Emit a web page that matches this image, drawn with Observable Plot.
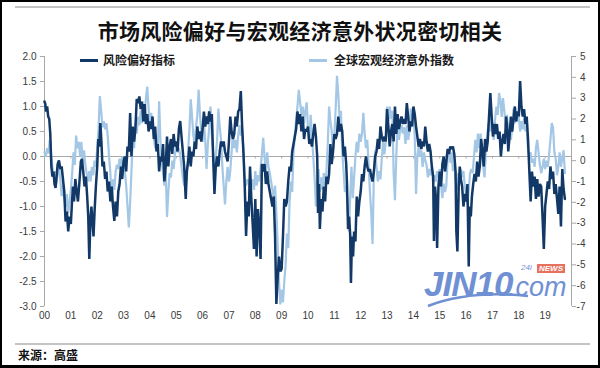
<!DOCTYPE html>
<html>
<head>
<meta charset="utf-8">
<script src="https://cdn.jsdelivr.net/npm/d3@7"></script>
<script src="https://cdn.jsdelivr.net/npm/@observablehq/plot@0.6"></script>
<style>
html,body{margin:0;padding:0;background:#fff;}
#wrap{position:relative;width:600px;height:368px;overflow:hidden;background:#fff;font-family:"Noto Sans CJK SC","Liberation Sans",sans-serif;}
#wrap > *{position:absolute;}
#chart{left:0;top:0;}
#topline{left:15px;top:6px;width:575px;height:2px;background:#c4c4c4;}
#botline{left:15px;top:343px;width:575px;height:2px;background:#c4c4c4;}
#title{left:0;width:600px;top:15px;text-align:center;font-size:21px;font-weight:700;color:#111;line-height:30px;letter-spacing:0.3px;}
.sw{height:3px;}
.lg{font-size:12px;font-weight:700;color:#1a1a1a;line-height:16px;}
#source{left:18px;top:346px;font-size:12px;font-weight:700;color:#111;line-height:18px;}
#border{left:0;top:0;width:600px;height:368px;box-sizing:border-box;border:2px solid #000;border-bottom-width:3px;}
.wm{font-family:"Liberation Sans",Arial,sans-serif;color:#7090d4;font-style:italic;line-height:1;}
</style>
</head>
<body>
<div id="wrap">
  <div id="chart"></div>
  <div id="topline"></div>
  <div id="title">市场风险偏好与宏观经济意外状况密切相关</div>
  <div class="sw" id="sw1" style="left:80px;top:59px;width:18px;"></div>
  <div class="lg" id="lg1" style="left:103px;top:52px;"></div>
  <div class="sw" id="sw2" style="left:309px;top:59px;width:18px;"></div>
  <div class="lg" id="lg2" style="left:334px;top:52px;"></div>
  <div class="wm" style="left:424px;top:266px;font-size:35px;font-weight:700;letter-spacing:-1px;">JIN10</div>
  <div class="wm" style="left:508px;top:274px;font-size:27px;">.com</div>
  <div class="wm" style="left:521px;top:264px;font-size:8px;">24i</div>
  <div style="left:537px;top:264px;font-family:'Liberation Sans',sans-serif;font-size:8px;font-style:italic;font-weight:700;color:#fff;background:#e8705f;padding:0 2px;line-height:9px;">NEWS</div>
  <svg style="left:0;top:0;" width="600" height="368"><path d="M428,306 Q470,290 528,296" fill="none" stroke="#7090d4" stroke-width="2.5"/></svg>
  <div id="botline"></div>
  <div id="source">来源：高盛</div>
  <div id="border"></div>
</div>
<script>
// ---- Data ----
const seriesNames = ["风险偏好指标", "全球宏观经济意外指数"];
const years = [2000,2001,2002,2003,2004,2005,2006,2007,2008,2009,2010,2011,2012,2013,2014,2015,2016,2017,2018,2019];
const leftTicks = [2.0,1.5,1.0,0.5,0.0,-0.5,-1.0,-1.5,-2.0,-2.5,-3.0];
const rightTicks = [5,4,3,2,1,0,-1,-2,-3,-4,-5,-6,-7];

// 风险偏好指标 (left axis) : [decimal year, value]
const riskAppetite = [
[2000.00,1.10],[2000.03,1.05],[2000.06,0.90],[2000.10,1.00],[2000.14,0.80],[2000.18,0.75],[2000.22,0.45],[2000.26,-0.20],[2000.30,-0.40],[2000.34,-0.30],[2000.38,-0.55],[2000.42,-0.63],[2000.46,-0.40],[2000.50,-0.15],[2000.55,-0.08],[2000.60,-0.25],[2000.65,-0.20],[2000.70,-0.45],[2000.75,-0.70],[2000.80,-1.30],[2000.85,-1.10],[2000.90,-1.50],[2000.95,-1.20],
[2001.00,-1.35],[2001.04,-0.95],[2001.08,-0.60],[2001.12,-0.90],[2001.17,-0.45],[2001.22,-0.70],[2001.27,-0.90],[2001.32,-0.55],[2001.38,-0.10],[2001.42,-0.05],[2001.47,-0.30],[2001.52,-0.60],[2001.57,-0.40],[2001.62,-0.80],[2001.66,-1.20],[2001.70,-2.05],[2001.74,-1.30],[2001.78,-1.00],[2001.82,-1.30],[2001.86,-1.60],[2001.90,-1.10],[2001.95,-0.60],
[2002.00,-0.20],[2002.04,0.35],[2002.08,0.20],[2002.12,0.67],[2002.16,0.30],[2002.20,-0.20],[2002.25,-0.10],[2002.30,-0.45],[2002.35,-0.30],[2002.40,-0.70],[2002.45,-0.50],[2002.50,-0.90],[2002.55,-0.60],[2002.60,-1.00],[2002.65,-1.29],[2002.70,-0.90],[2002.75,-1.20],[2002.80,-0.70],[2002.85,-0.55],[2002.90,-0.20],[2002.95,-0.45],
[2003.00,-0.10],[2003.05,0.00],[2003.10,-0.30],[2003.15,0.20],[2003.20,0.10],[2003.25,0.87],[2003.30,0.00],[2003.35,0.60],[2003.40,0.30],[2003.45,0.55],[2003.50,1.15],[2003.55,1.07],[2003.60,1.20],[2003.65,0.95],[2003.70,1.10],[2003.75,0.70],[2003.80,1.05],[2003.85,0.65],[2003.90,0.85],[2003.95,0.50],
[2004.00,0.70],[2004.05,0.55],[2004.10,0.80],[2004.15,0.35],[2004.20,0.60],[2004.25,0.10],[2004.30,0.25],[2004.35,-0.30],[2004.40,0.00],[2004.45,-0.10],[2004.50,0.25],[2004.55,-0.50],[2004.60,-0.20],[2004.65,0.40],[2004.70,-0.20],[2004.75,0.20],[2004.80,0.35],[2004.85,0.05],[2004.90,0.45],[2004.95,0.20],
[2005.00,0.30],[2005.05,0.10],[2005.10,0.55],[2005.15,0.71],[2005.20,0.40],[2005.25,0.10],[2005.30,-0.20],[2005.36,-0.85],[2005.40,-0.30],[2005.45,-0.10],[2005.50,0.20],[2005.55,-0.20],[2005.60,0.10],[2005.65,0.00],[2005.70,0.30],[2005.75,0.15],[2005.80,0.60],[2005.85,0.35],[2005.90,0.50],[2005.95,0.30],
[2006.00,0.55],[2006.05,0.90],[2006.10,0.60],[2006.15,0.80],[2006.20,0.65],[2006.25,0.90],[2006.30,0.70],[2006.35,0.85],[2006.40,0.00],[2006.45,-0.75],[2006.50,-0.20],[2006.55,0.00],[2006.60,-0.20],[2006.65,0.10],[2006.70,0.30],[2006.75,0.20],[2006.80,0.30],[2006.85,0.10],[2006.90,0.00],[2006.95,-0.10],
[2007.00,0.30],[2007.05,0.80],[2007.10,0.50],[2007.15,0.35],[2007.20,0.45],[2007.25,0.80],[2007.30,0.60],[2007.35,0.90],[2007.40,0.95],[2007.45,1.31],[2007.50,0.60],[2007.55,0.08],[2007.60,-0.60],[2007.65,-1.59],[2007.70,-0.90],[2007.75,-1.20],[2007.80,-0.20],[2007.85,-0.85],[2007.90,-1.35],[2007.95,-1.85],
[2008.00,-0.85],[2008.05,-2.00],[2008.10,-1.05],[2008.15,-1.40],[2008.20,-2.05],[2008.25,-0.15],[2008.30,-0.30],[2008.35,-0.15],[2008.40,-0.55],[2008.45,-0.30],[2008.50,-0.55],[2008.55,-0.70],[2008.60,-0.85],[2008.65,-1.00],[2008.70,-0.80],[2008.75,-1.60],[2008.80,-2.95],[2008.85,-2.40],[2008.90,-2.00],[2008.95,-2.30],
[2009.00,-2.25],[2009.05,-1.60],[2009.10,-0.85],[2009.15,-1.00],[2009.20,-0.90],[2009.25,-0.50],[2009.30,-0.20],[2009.35,-0.30],[2009.40,0.10],[2009.45,0.25],[2009.50,0.40],[2009.55,0.55],[2009.60,0.90],[2009.65,0.65],[2009.70,0.85],[2009.75,0.50],[2009.80,0.80],[2009.85,0.35],[2009.90,0.55],[2009.95,0.50],
[2010.00,0.60],[2010.05,0.25],[2010.10,0.35],[2010.15,0.20],[2010.20,0.45],[2010.25,0.65],[2010.30,0.40],[2010.35,0.00],[2010.38,-1.13],[2010.42,-0.55],[2010.45,-1.45],[2010.50,-0.85],[2010.55,-1.10],[2010.60,-0.60],[2010.65,-0.90],[2010.70,-0.40],[2010.75,-0.55],[2010.80,-0.35],[2010.85,0.25],[2010.90,-0.15],[2010.95,0.10],
[2011.00,0.45],[2011.05,0.35],[2011.10,0.45],[2011.15,0.80],[2011.20,0.50],[2011.25,0.65],[2011.30,0.50],[2011.35,0.00],[2011.40,0.20],[2011.45,-0.15],[2011.48,-0.55],[2011.52,-1.45],[2011.56,-1.20],[2011.60,-1.55],[2011.63,-2.53],[2011.67,-1.60],[2011.71,-2.00],[2011.75,-1.50],[2011.80,-1.70],[2011.85,-0.80],[2011.90,-1.20],[2011.95,-0.90],
[2012.00,-0.70],[2012.05,-0.35],[2012.10,-0.50],[2012.15,-0.20],[2012.20,0.00],[2012.25,-0.20],[2012.30,-0.30],[2012.35,-0.25],[2012.40,-0.40],[2012.45,-0.50],[2012.50,-0.30],[2012.55,0.00],[2012.60,0.10],[2012.65,0.35],[2012.70,0.15],[2012.75,0.60],[2012.80,0.40],[2012.85,0.30],[2012.90,0.40],[2012.95,0.30],
[2013.00,0.95],[2013.05,0.60],[2013.10,0.20],[2013.15,0.50],[2013.20,0.65],[2013.25,0.30],[2013.30,1.00],[2013.35,0.45],[2013.40,0.85],[2013.45,0.55],[2013.50,0.70],[2013.55,0.80],[2013.60,0.65],[2013.65,0.75],[2013.70,0.65],[2013.75,1.07],[2013.80,0.80],[2013.85,0.50],[2013.90,0.70],[2013.95,0.60],
[2014.00,1.00],[2014.05,0.85],[2014.10,0.60],[2014.15,0.40],[2014.20,0.20],[2014.25,0.35],[2014.30,0.15],[2014.35,0.30],[2014.40,0.20],[2014.45,0.60],[2014.50,0.30],[2014.55,0.10],[2014.60,0.25],[2014.65,0.10],[2014.70,-0.20],[2014.75,-0.40],[2014.78,-1.69],[2014.82,-0.60],[2014.86,-0.85],[2014.90,-1.83],[2014.95,-0.60],
[2015.00,-0.30],[2015.05,-0.60],[2015.10,-0.15],[2015.15,0.00],[2015.20,-0.30],[2015.25,-0.10],[2015.30,0.15],[2015.35,0.05],[2015.40,0.20],[2015.45,0.15],[2015.50,0.20],[2015.55,0.05],[2015.60,-0.30],[2015.63,-1.50],[2015.67,-1.90],[2015.72,-0.60],[2015.76,-0.20],[2015.80,-0.45],[2015.85,-0.60],[2015.90,-1.00],[2015.95,-0.75],
[2016.00,-0.90],[2016.05,-0.55],[2016.10,-2.20],[2016.14,-1.00],[2016.18,-1.20],[2016.22,-0.80],[2016.27,-0.55],[2016.32,-0.35],[2016.37,-0.50],[2016.42,-0.10],[2016.47,-0.40],[2016.52,-0.20],[2016.57,0.35],[2016.62,0.10],[2016.67,-0.20],[2016.72,0.35],[2016.77,0.10],[2016.82,0.30],[2016.87,0.80],[2016.92,1.27],[2016.97,0.80],
[2017.02,0.40],[2017.07,0.65],[2017.12,0.45],[2017.17,0.65],[2017.22,0.35],[2017.27,0.50],[2017.32,0.00],[2017.37,0.30],[2017.42,0.45],[2017.47,0.25],[2017.52,0.80],[2017.57,0.50],[2017.60,0.10],[2017.65,0.40],[2017.70,0.80],[2017.75,0.50],[2017.80,0.75],[2017.85,1.00],[2017.90,0.70],[2017.95,0.90],
[2018.00,0.80],[2018.05,1.51],[2018.10,1.00],[2018.15,0.80],[2018.20,0.95],[2018.25,0.65],[2018.30,0.80],[2018.35,0.35],[2018.40,-0.30],[2018.45,-0.90],[2018.50,-0.30],[2018.55,-0.60],[2018.60,-0.40],[2018.65,-0.85],[2018.70,-0.45],[2018.75,-0.80],[2018.80,-0.55],[2018.85,-0.60],[2018.90,-1.20],[2018.95,-1.85],
[2019.00,-1.00],[2019.05,-0.75],[2019.10,-0.50],[2019.15,-0.65],[2019.20,-0.20],[2019.25,-0.45],[2019.30,-0.30],[2019.35,-0.75],[2019.40,-0.55],[2019.45,-0.85],[2019.50,-1.15],[2019.55,-0.60],[2019.60,-1.40],[2019.65,-0.25],[2019.70,-0.65],[2019.75,-0.85]
];

// 全球宏观经济意外指数 (right axis) : [decimal year, value]
const macroSurprise = [
[2000.00,0.40],[2000.05,0.20],[2000.10,0.60],[2000.15,0.35],[2000.20,1.00],[2000.25,0.35],[2000.30,-0.30],[2000.35,-0.80],[2000.40,-0.50],[2000.45,-1.10],[2000.50,-0.60],[2000.55,-0.30],[2000.60,-0.90],[2000.65,-1.70],[2000.70,-1.20],[2000.75,-1.80],[2000.80,-2.20],[2000.85,-1.60],[2000.90,-2.50],[2000.95,-2.00],
[2001.00,-1.40],[2001.05,-0.60],[2001.10,0.40],[2001.15,-0.20],[2001.20,1.20],[2001.25,0.60],[2001.30,0.90],[2001.35,0.20],[2001.40,0.90],[2001.45,-0.10],[2001.50,0.50],[2001.55,-0.20],[2001.60,-0.60],[2001.65,-1.00],[2001.70,-0.50],[2001.75,-1.00],[2001.80,-0.30],[2001.85,-0.70],[2001.90,0.00],[2001.95,-0.30],
[2002.00,0.60],[2002.05,1.50],[2002.10,3.10],[2002.15,2.40],[2002.20,1.60],[2002.25,1.90],[2002.30,1.50],[2002.35,1.80],[2002.40,1.20],[2002.45,0.20],[2002.50,-0.60],[2002.55,-2.00],[2002.60,-0.90],[2002.65,-1.40],[2002.70,-0.50],[2002.75,-0.20],[2002.80,-0.40],[2002.85,0.10],[2002.90,-0.30],[2002.95,0.20],
[2003.00,-0.10],[2003.05,-0.50],[2003.10,-1.20],[2003.15,-2.20],[2003.20,-3.20],[2003.25,-2.00],[2003.30,-0.50],[2003.35,1.00],[2003.40,0.60],[2003.45,1.80],[2003.50,1.30],[2003.55,2.10],[2003.60,1.70],[2003.65,2.40],[2003.70,1.80],[2003.75,2.60],[2003.80,2.20],[2003.85,3.00],[2003.90,3.55],[2003.95,2.50],
[2004.00,1.70],[2004.05,2.30],[2004.10,1.60],[2004.15,1.10],[2004.20,0.60],[2004.25,1.20],[2004.30,0.50],[2004.35,2.85],[2004.40,1.00],[2004.45,-0.10],[2004.50,-0.60],[2004.55,-1.20],[2004.60,-0.50],[2004.65,-2.70],[2004.70,-1.50],[2004.75,-0.60],[2004.80,-0.80],[2004.85,0.00],[2004.90,-0.40],[2004.95,0.30],
[2005.00,0.90],[2005.05,0.40],[2005.10,0.60],[2005.15,0.30],[2005.20,-0.30],[2005.25,-0.80],[2005.30,-1.20],[2005.35,-0.80],[2005.40,-1.00],[2005.45,0.50],[2005.50,1.50],[2005.55,2.95],[2005.60,2.10],[2005.65,1.20],[2005.70,0.80],[2005.75,1.60],[2005.80,2.20],[2005.85,3.40],[2005.90,2.20],[2005.95,1.40],
[2006.00,0.90],[2006.05,1.80],[2006.10,1.00],[2006.15,-0.40],[2006.20,0.80],[2006.25,1.60],[2006.30,2.60],[2006.35,1.20],[2006.40,0.40],[2006.45,-0.70],[2006.50,0.20],[2006.55,1.00],[2006.60,2.50],[2006.65,1.60],[2006.70,1.00],[2006.75,-0.30],[2006.80,-1.20],[2006.85,-2.10],[2006.90,-1.00],[2006.95,-0.30],
[2007.00,-1.00],[2007.05,-0.50],[2007.10,0.40],[2007.15,1.30],[2007.20,0.60],[2007.25,1.00],[2007.30,0.40],[2007.35,1.20],[2007.40,1.70],[2007.45,1.20],[2007.50,1.50],[2007.55,0.50],[2007.60,-0.80],[2007.65,-1.20],[2007.70,-0.90],[2007.75,-1.00],[2007.80,-1.50],[2007.85,-1.10],[2007.90,-0.90],[2007.95,-1.40],
[2008.00,-0.50],[2008.05,-1.20],[2008.10,-0.70],[2008.15,-1.00],[2008.20,-0.40],[2008.25,0.30],[2008.30,1.10],[2008.35,0.20],[2008.40,-0.60],[2008.45,0.40],[2008.50,-0.30],[2008.55,-0.60],[2008.60,-1.00],[2008.65,-1.40],[2008.70,-1.80],[2008.75,-1.20],[2008.80,-2.50],[2008.85,-4.00],[2008.90,-5.80],[2008.95,-6.90],
[2009.00,-6.20],[2009.05,-6.80],[2009.10,-5.80],[2009.15,-5.00],[2009.20,-3.50],[2009.25,-4.20],[2009.30,-2.00],[2009.35,-1.00],[2009.40,-1.50],[2009.45,0.40],[2009.50,1.20],[2009.55,2.00],[2009.60,2.60],[2009.65,3.40],[2009.70,2.80],[2009.75,2.20],[2009.80,2.60],[2009.85,1.80],[2009.90,2.40],[2009.95,2.80],
[2010.00,1.50],[2010.05,0.80],[2010.10,2.20],[2010.15,1.20],[2010.20,0.20],[2010.25,-0.80],[2010.30,-2.20],[2010.35,-1.00],[2010.40,-0.40],[2010.45,-1.50],[2010.50,-0.80],[2010.55,-1.40],[2010.60,-0.60],[2010.65,-1.20],[2010.70,-0.50],[2010.75,0.80],[2010.80,2.60],[2010.85,1.90],[2010.90,1.40],[2010.95,0.50],
[2011.00,1.20],[2011.05,2.50],[2011.10,4.07],[2011.15,3.20],[2011.20,1.90],[2011.25,2.40],[2011.30,0.40],[2011.35,-0.50],[2011.40,-1.50],[2011.45,-1.20],[2011.50,-2.20],[2011.55,-3.40],[2011.60,-1.80],[2011.65,-0.30],[2011.70,-1.80],[2011.75,-0.80],[2011.80,0.20],[2011.85,0.90],[2011.90,0.40],[2011.95,1.30],
[2012.00,0.90],[2012.05,1.30],[2012.10,2.30],[2012.15,1.30],[2012.20,0.60],[2012.25,1.00],[2012.30,-0.20],[2012.35,-1.50],[2012.40,-2.50],[2012.45,-4.00],[2012.50,-0.60],[2012.55,0.50],[2012.60,-0.30],[2012.65,-1.00],[2012.70,-0.50],[2012.75,-0.90],[2012.80,0.10],[2012.85,0.90],[2012.90,0.30],[2012.95,0.90],
[2013.00,2.60],[2013.05,1.90],[2013.10,2.60],[2013.15,2.00],[2013.20,2.40],[2013.25,-0.60],[2013.30,-1.90],[2013.35,0.20],[2013.40,1.80],[2013.45,1.00],[2013.50,1.50],[2013.55,1.70],[2013.60,1.30],[2013.65,1.60],[2013.70,0.80],[2013.75,1.70],[2013.80,1.00],[2013.85,1.40],[2013.90,2.50],[2013.95,2.10],
[2014.00,2.40],[2014.05,1.20],[2014.10,-1.60],[2014.15,0.20],[2014.20,0.70],[2014.25,0.20],[2014.30,0.50],[2014.35,-0.30],[2014.40,0.40],[2014.45,0.00],[2014.50,-0.20],[2014.55,-0.80],[2014.60,-0.40],[2014.65,-0.70],[2014.70,-0.30],[2014.75,-1.10],[2014.80,-0.70],[2014.85,-1.00],[2014.90,-0.50],[2014.95,-0.80],
[2015.00,-0.40],[2015.05,-1.20],[2015.10,-1.80],[2015.15,-1.10],[2015.20,-1.50],[2015.25,-1.20],[2015.30,0.20],[2015.35,0.50],[2015.40,-0.10],[2015.45,0.40],[2015.50,-0.50],[2015.55,-0.20],[2015.60,-0.80],[2015.65,-1.40],[2015.70,-0.60],[2015.75,-1.00],[2015.80,-0.40],[2015.85,-0.80],[2015.90,-0.50],[2015.95,-1.20],
[2016.00,-1.60],[2016.05,-2.10],[2016.10,-1.40],[2016.15,-0.60],[2016.20,-0.40],[2016.25,-0.60],[2016.30,0.20],[2016.35,1.00],[2016.40,0.40],[2016.45,1.30],[2016.50,0.60],[2016.55,1.30],[2016.60,0.20],[2016.65,-0.30],[2016.70,-0.80],[2016.75,0.40],[2016.80,1.20],[2016.85,1.80],[2016.90,1.40],[2016.95,2.10],
[2017.00,1.40],[2017.05,1.00],[2017.10,2.00],[2017.15,2.60],[2017.20,2.20],[2017.25,3.25],[2017.30,2.90],[2017.35,2.10],[2017.40,3.00],[2017.45,2.40],[2017.50,1.60],[2017.55,2.20],[2017.60,1.40],[2017.65,1.80],[2017.70,1.00],[2017.75,1.60],[2017.80,2.50],[2017.85,1.80],[2017.90,2.30],[2017.95,1.90],
[2018.00,2.10],[2018.05,1.40],[2018.10,1.90],[2018.15,1.50],[2018.20,2.00],[2018.25,1.40],[2018.30,1.60],[2018.35,0.50],[2018.40,0.10],[2018.45,0.40],[2018.50,-0.10],[2018.55,0.10],[2018.60,-0.30],[2018.65,0.60],[2018.70,1.00],[2018.75,0.40],[2018.80,-0.20],[2018.85,-0.60],[2018.90,-0.30],[2018.95,0.10],
[2019.00,-0.40],[2019.05,0.00],[2019.10,-0.30],[2019.15,0.30],[2019.20,1.00],[2019.25,1.80],[2019.30,1.60],[2019.35,0.40],[2019.40,0.10],[2019.45,-0.70],[2019.50,-0.30],[2019.55,0.40],[2019.60,-0.30],[2019.65,0.10],[2019.70,0.50],[2019.75,-0.60]
];

// ---- Styles ----
const DARK = "#113866";
const LIGHT = "#a3c7e5";
const AXIS = "#a8a8a8";
const LABEL = "#3a3a3a";

// right-axis (-7..5) mapped onto the left scale (-3..2)
const leftDomain = [-3, 2];
const rightDomain = [-7, 5];
const toLeft = r => leftDomain[0] + (r - rightDomain[0]) * (leftDomain[1] - leftDomain[0]) / (rightDomain[1] - rightDomain[0]);
const fromLeft = l => rightDomain[0] + (l - leftDomain[0]) * (rightDomain[1] - rightDomain[0]) / (leftDomain[1] - leftDomain[0]);
const xDomain = [years[0], years[years.length - 1] + 1];

document.getElementById("sw1").style.background = DARK;
document.getElementById("sw2").style.background = LIGHT;
document.getElementById("lg1").textContent = seriesNames[0];
document.getElementById("lg2").textContent = seriesNames[1];

const chart = Plot.plot({
  width: 600,
  height: 330,
  marginLeft: 44,
  marginRight: 29,
  marginTop: 56,
  marginBottom: 24,
  style: {background: "transparent", fontFamily: "'Liberation Sans', Arial, sans-serif", fontSize: "10px"},
  x: {domain: xDomain, axis: null},
  y: {domain: leftDomain, axis: null},
  marks: [
    Plot.ruleY([0], {stroke: AXIS, strokeWidth: 1}),
    Plot.ruleX(years.slice(1), {y1: 0, y2: -0.05, stroke: AXIS}),
    Plot.ruleX([xDomain[0], xDomain[1]], {y1: leftDomain[0], y2: leftDomain[1], stroke: AXIS}),
    Plot.line(macroSurprise, {x: d => d[0], y: d => toLeft(d[1]), stroke: LIGHT, strokeWidth: 2.2, strokeLinejoin: "miter", strokeMiterlimit: 2}),
    Plot.line(riskAppetite, {x: d => d[0], y: d => d[1], stroke: DARK, strokeWidth: 2.5, strokeLinejoin: "miter", strokeMiterlimit: 2}),
    Plot.axisY(leftTicks, {anchor: "left", tickSize: 4, tickPadding: 4, stroke: AXIS, fill: LABEL, tickFormat: d => d.toFixed(1), label: null}),
    Plot.axisY(rightTicks.map(toLeft), {anchor: "right", tickSize: 4, tickPadding: 10, stroke: AXIS, fill: LABEL, textAnchor: "end", tickFormat: d => String(Math.round(fromLeft(d))), label: null}),
    Plot.axisX(years, {anchor: "bottom", tickSize: 0, tickPadding: 5, fill: LABEL, tickFormat: d => String(d % 100).padStart(2, "0"), label: null})
  ]
});
document.getElementById("chart").appendChild(chart);
</script>
</body>
</html>
